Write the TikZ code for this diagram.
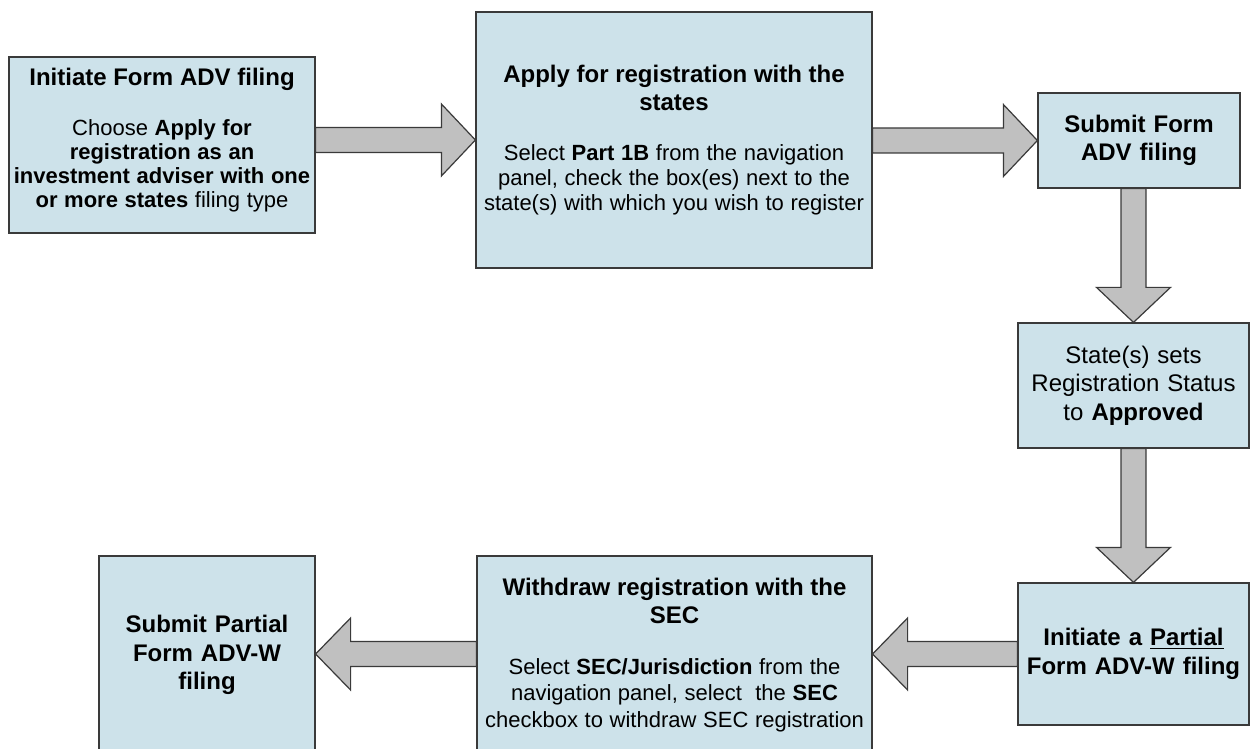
\documentclass[tikz,border=0pt]{standalone}
\usepackage{fontspec}
\setmainfont{Liberation Sans}
\usetikzlibrary{calc}
\definecolor{boxblue}{RGB}{205,226,234}
\definecolor{arrowgray}{RGB}{192,192,192}
\definecolor{edgegray}{RGB}{58,58,58}
\newcommand{\boxhead}[1]{{\fontsize{12}{14}\selectfont\bfseries #1\par}}
\newcommand{\boxbody}[2][12.5]{{\fontsize{11}{#1}\selectfont #2\par}}

\begin{document}
\begin{tikzpicture}[x=0.5pt, y=-0.5pt,
        stepbox/.style={draw=edgegray, fill=boxblue, line width=0.6pt, align=center, inner sep=0pt},
        fatarrow/.style={draw=edgegray, fill=arrowgray, line width=0.6pt, line join=miter}]
            \useasboundingbox (0,0) rectangle (1250,749);
            \clip (0,0) rectangle (1250,749);
            \node[stepbox, minimum width=153pt, minimum height=88pt, text width=150pt] (initiate) at (162,145)
                {\boxhead{Initiate Form ADV filing}\vspace{13pt}\boxbody[12]{Choose \textbf{Apply for}\\ \textbf{registration as an}\\ \textbf{investment adviser with one}\\ \textbf{or more states} filing type}\vspace{5pt}\hrule height 0pt};
            \node[stepbox, minimum width=198pt, minimum height=128pt, text width=194pt] (apply) at (674,140)
                {\boxhead{Apply for registration with the\\ states}\vspace{12.5pt}\boxbody{Select \textbf{Part 1B} from the navigation\\ panel, check the box(es) next to the\\ state(s) with which you wish to register}};
            \node[stepbox, minimum width=101pt, minimum height=47.5pt, text width=98pt, font=\fontsize{12}{14}\selectfont\bfseries] (submit) at (1139,140.5)
                {Submit Form\\ ADV filing};
            \node[stepbox, minimum width=115.5pt, minimum height=62.5pt, text width=112pt, font=\fontsize{12}{14.25}\selectfont] (approved) at (1133.5,385.5)
                {State(s) sets\\ Registration Status\\ to \textbf{Approved}};
            \node[stepbox, minimum width=115.5pt, minimum height=71pt, text width=112pt, font=\fontsize{12}{14.5}\selectfont\bfseries] (partial) at (1133.5,654)
                {Initiate a \underline{Partial}\\ Form ADV-W filing};
            \node[stepbox, minimum width=197.5pt, minimum height=99pt, text width=194pt] (withdraw) at (674.5,655)
                {\boxhead{Withdraw registration with the\\ SEC}\vspace{12pt}\boxbody[13.25]{Select \textbf{SEC/Jurisdiction} from the\\ navigation panel, select~ the \textbf{SEC}\\ checkbox to withdraw SEC registration}};
            \node[stepbox, minimum width=108pt, minimum height=99pt, text width=104pt, font=\fontsize{12}{14.25}\selectfont\bfseries] (final) at (207,655)
                {Submit Partial\\ Form ADV-W\\ filing};
            \coordinate (a1) at (initiate.east |- apply.west);
            \coordinate (a2) at (apply.east |- submit.west);
            \coordinate (a3) at (approved.north |- submit.south);
            \coordinate (a4) at (partial.north |- approved.south);
            \coordinate (a5) at (withdraw.east |- partial.west);
            \coordinate (a6) at (final.east |- partial.west);
            \draw[fatarrow] ($(a1)+(0,6.25pt)$) -- ($(apply.west)+(-17pt,6.25pt)$) -- ($(apply.west)+(-17pt,18pt)$) -- (apply.west)
                -- ($(apply.west)+(-17pt,-18pt)$) -- ($(apply.west)+(-17pt,-6.25pt)$) -- ($(a1)+(0,-6.25pt)$) -- cycle;
            \draw[fatarrow] ($(a2)+(0,6.25pt)$) -- ($(submit.west)+(-17pt,6.25pt)$) -- ($(submit.west)+(-17pt,18pt)$) -- (submit.west)
                -- ($(submit.west)+(-17pt,-18pt)$) -- ($(submit.west)+(-17pt,-6.25pt)$) -- ($(a2)+(0,-6.25pt)$) -- cycle;
            \draw[fatarrow] ($(a3)+(-6.25pt,0)$) -- ($(approved.north)+(-6.25pt,17.5pt)$) -- ($(approved.north)+(-18.5pt,17.5pt)$) -- (approved.north)
                -- ($(approved.north)+(18.5pt,17.5pt)$) -- ($(approved.north)+(6.25pt,17.5pt)$) -- ($(a3)+(6.25pt,0)$) -- cycle;
            \draw[fatarrow] ($(a4)+(-6.25pt,0)$) -- ($(partial.north)+(-6.25pt,17.5pt)$) -- ($(partial.north)+(-18.5pt,17.5pt)$) -- (partial.north)
                -- ($(partial.north)+(18.5pt,17.5pt)$) -- ($(partial.north)+(6.25pt,17.5pt)$) -- ($(a4)+(6.25pt,0)$) -- cycle;
            \draw[fatarrow] ($(partial.west)+(0,6.25pt)$) -- ($(a5)+(17.5pt,6.25pt)$) -- ($(a5)+(17.5pt,18pt)$) -- (a5)
                -- ($(a5)+(17.5pt,-18pt)$) -- ($(a5)+(17.5pt,-6.25pt)$) -- ($(partial.west)+(0,-6.25pt)$) -- cycle;
            \draw[fatarrow] ($(a5 -| withdraw.west)+(0,6.25pt)$) -- ($(a6)+(17.5pt,6.25pt)$) -- ($(a6)+(17.5pt,18pt)$) -- (a6)
                -- ($(a6)+(17.5pt,-18pt)$) -- ($(a6)+(17.5pt,-6.25pt)$) -- ($(a5 -| withdraw.west)+(0,-6.25pt)$) -- cycle;
        \end{tikzpicture}
\end{document}
